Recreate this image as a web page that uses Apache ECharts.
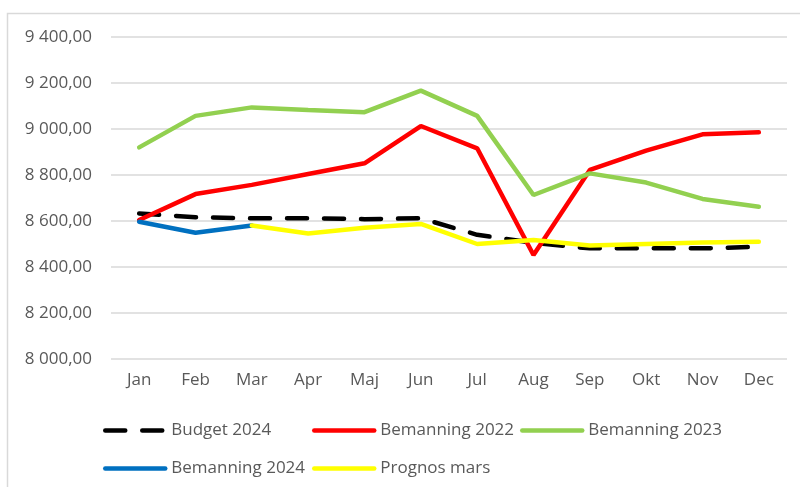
<!DOCTYPE html>
<html>
<head>
<meta charset="utf-8">
<script src="https://cdn.jsdelivr.net/npm/echarts@6/dist/echarts.min.js"></script>
<style>
  html, body { margin: 0; padding: 0; background: #fff; }
  #chart { width: 800px; height: 487px; }
</style>
</head>
<body>
<div id="chart"></div>
<script>
var months = ["Jan", "Feb", "Mar", "Apr", "Maj", "Jun", "Jul", "Aug", "Sep", "Okt", "Nov", "Dec"];

var budget2024 = [8633, 8616, 8612, 8612, 8608, 8612, 8540, 8505, 8481, 8481, 8481, 8488];
var bemanning2022 = [8604, 8717, 8757, 8804, 8851, 9013, 8916, 8452, 8822, 8906, 8977, 8986];
var bemanning2023 = [8920, 9057, 9094, 9083, 9073, 9167, 9057, 8713, 8807, 8767, 8696, 8662];
var bemanning2024 = [8597, 8549, 8580, null, null, null, null, null, null, null, null, null];
var prognosMars = [null, null, 8580, 8546, 8571, 8587, 8500, 8517, 8493, 8500, 8506, 8510];

var yTicks = { min: 8000, max: 9400, step: 200 };

var textColor = '#595959';
var font = 'Open Sans';

// "9 400,00" style
function fmt(v) {
    var s = String(Math.round(v));
    s = s.replace(/\B(?=(\d{3})+(?!\d))/g, ' ');
    return s + ',00';
}

function line(name, data, color, dashed) {
    return {
        name: name,
        type: 'line',
        data: data,
        symbol: 'none',
        connectNulls: false,
        lineStyle: {
            color: color,
            width: 4.5,
            type: dashed ? [20, 17] : 'solid',
            cap: 'round'
        },
        itemStyle: { color: color }
    };
}

function legendAt(name, left, top) {
    return {
        data: [name],
        left: left,
        top: top,
        padding: 0,
        itemWidth: 60,
        itemHeight: 14,
        itemGap: 0,
        itemStyle: { opacity: 0 },
        lineStyle: { width: 4.5 },
        textStyle: { color: textColor, fontFamily: font, fontSize: 17, padding: [0, 0, 0, 1] }
    };
}

var chart = echarts.init(document.getElementById('chart'));

var option = {
    animation: false,
    backgroundColor: '#fff',
    graphic: [{
        type: 'rect',
        shape: { x: 7.5, y: 13.5, width: 900, height: 600 },
        style: { fill: 'none', stroke: '#d9d9d9', lineWidth: 1.5 },
        silent: true
    }],
    grid: { left: 111, right: 13, top: 37, bottom: 128 },
    legend: [
        legendAt('Budget 2024', 103, 422),
        legendAt('Bemanning 2022', 312, 422),
        legendAt('Bemanning 2023', 520, 422),
        legendAt('Bemanning 2024', 103, 460),
        legendAt('Prognos mars', 312, 460)
    ],
    xAxis: {
        type: 'category',
        data: months,
        boundaryGap: true,
        axisLine: { show: false },
        axisTick: { show: false },
        axisLabel: { color: textColor, fontFamily: font, fontSize: 17, margin: 13 }
    },
    yAxis: {
        type: 'value',
        min: yTicks.min,
        max: yTicks.max,
        interval: yTicks.step,
        axisLine: { show: false },
        axisTick: { show: false },
        splitLine: { lineStyle: { color: '#d9d9d9', width: 1.5 } },
        axisLabel: {
            color: textColor, fontFamily: font, fontSize: 17, margin: 19,
            formatter: fmt
        }
    },
    series: [
        line('Budget 2024', budget2024, '#000000', true),
        line('Bemanning 2022', bemanning2022, '#ff0000'),
        line('Bemanning 2023', bemanning2023, '#92d050'),
        line('Bemanning 2024', bemanning2024, '#0070c0'),
        line('Prognos mars', prognosMars, '#ffff00')
    ]
};

chart.setOption(option);
</script>
</body>
</html>
